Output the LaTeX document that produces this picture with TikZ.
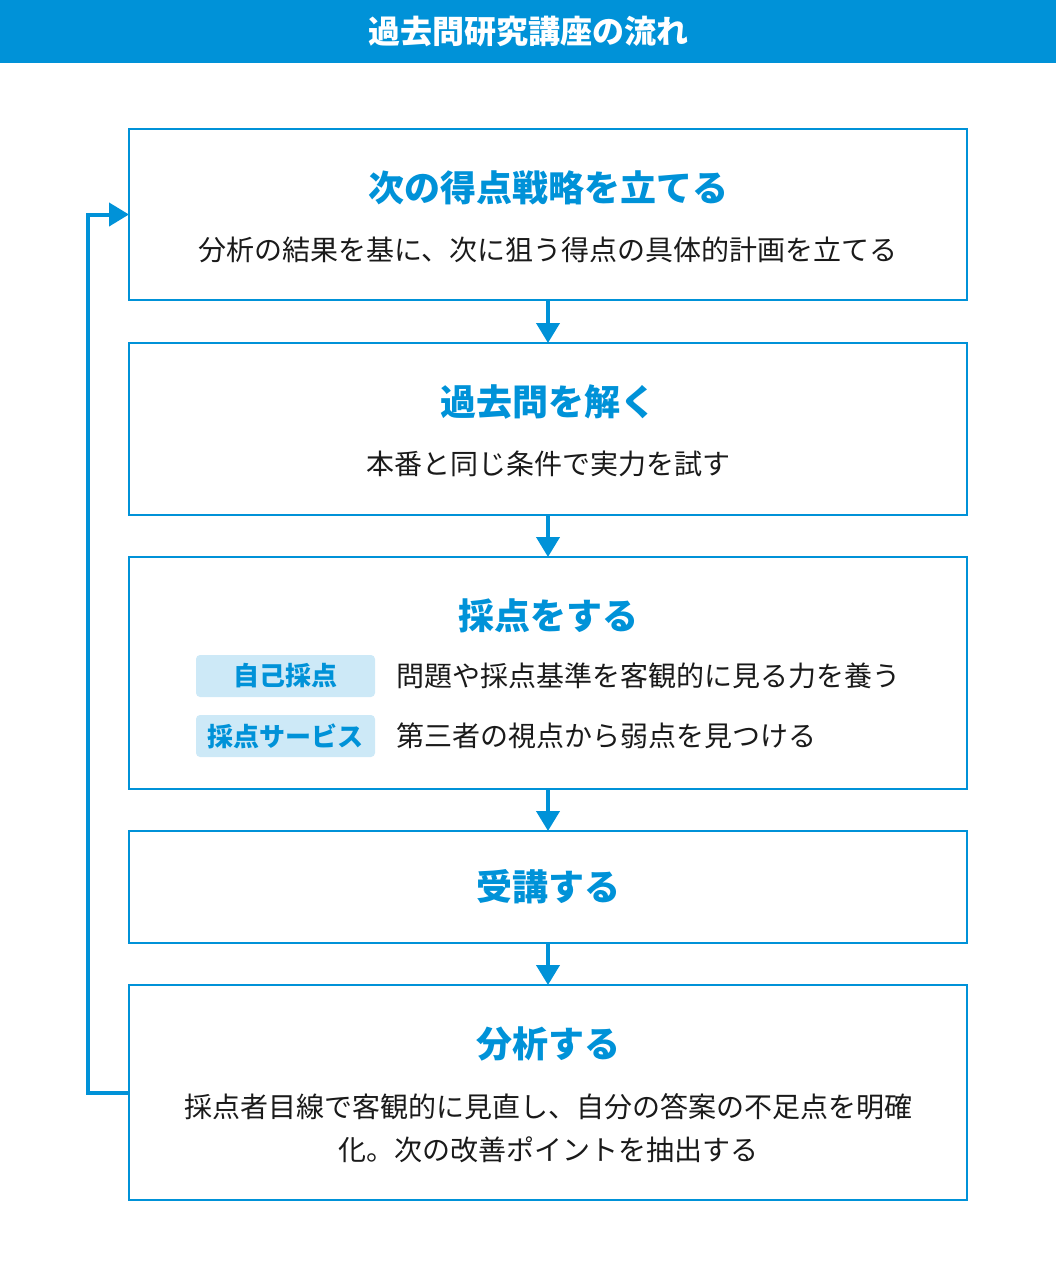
\documentclass[tikz,border=0pt]{standalone}
\usepackage{fontspec}
\setmainfont{Noto Sans CJK JP}
\usepackage{xcolor}
\usepackage{tikz}
\usetikzlibrary{positioning,arrows.meta}
\definecolor{kblue}{HTML}{0092D8}
\definecolor{ktag}{HTML}{CDE9F7}
\definecolor{ktext}{HTML}{1A1A1A}

\begin{document}
\begin{tikzpicture}[
  x=1pt, y=1pt,
  node distance=42pt,
  box/.style={draw=kblue, line width=2pt, minimum width=838pt, inner sep=0pt, outer sep=0pt},
  bar/.style={fill=kblue, minimum width=1056pt, minimum height=63pt, text=white,
    font=\fontsize{32}{40}\selectfont\bfseries},
  head/.style={text=kblue, font=\fontsize{36}{43}\selectfont\bfseries},
  body/.style={text=ktext, font=\fontsize{28}{43}\selectfont, align=center},
  tag/.style={fill=ktag, rounded corners=4pt, minimum width=179pt, minimum height=42pt,
    inner sep=0pt, text=kblue, font=\fontsize{26}{31}\selectfont\bfseries},
  desc/.style={text=ktext, font=\fontsize{28}{34}\selectfont, inner sep=0pt},
  flow/.style={draw=kblue, line width=4pt, -{Triangle[length=20pt,width=23pt]}}
]
\useasboundingbox (0,0) rectangle (1056,-1266);

% Title bar
\node[bar] (top) at (528,-31.5) {過去問研究講座の流れ};

% Boxes
\node[box, minimum height=171pt] (b1) at (548,-214.5) {};
\node[box, minimum height=172pt, below=43pt of b1] (b2) {};
\node[box, minimum height=232pt, below=of b2] (b3) {};
\node[box, minimum height=112pt, below=of b3] (b4) {};
\node[box, minimum height=215pt, below=of b4] (b5) {};

% Texts
\node[head] (h1) at ([yshift=-58.5pt]b1.north) {次の得点戦略を立てる};
\node[body] (t1) at ([yshift=-121pt]b1.north) {分析の結果を基に、次に狙う得点の具体的計画を立てる};

\node[head] (h2) at ([yshift=-58.5pt]b2.north) {過去問を解く};
\node[body] (t2) at ([yshift=-121pt]b2.north) {本番と同じ条件で実力を試す};

\node[head] (h3) at ([yshift=-58.5pt]b3.north) {採点をする};
\node[tag] (g1) at ([xshift=-262.5pt,yshift=-119pt]b3.north) {自己採点};
\node[tag] (g2) at ([xshift=-262.5pt,yshift=-179pt]b3.north) {採点サービス};
\node[desc, right=21pt of g1] (d1) {問題や採点基準を客観的に見る力を養う};
\node[desc, right=21pt of g2] (d2) {第三者の視点から弱点を見つける};

\node[head] (h4) at (b4) {受講する};

\node[head] (h5) at ([yshift=-58.5pt]b5.north) {分析する};
\node[body] (t5) at ([yshift=-143.5pt]b5.north) {採点者目線で客観的に見直し、自分の答案の不足点を明確\\化。次の改善ポイントを抽出する};

% Pointers
\draw[flow] (b1) -- (b2);
\draw[flow] (b2) -- (b3);
\draw[flow] (b3) -- (b4);
\draw[flow] (b4) -- (b5);
\draw[flow] (b5.west) -- ++(-41,0) |- (b1.west);
\end{tikzpicture}
\end{document}
